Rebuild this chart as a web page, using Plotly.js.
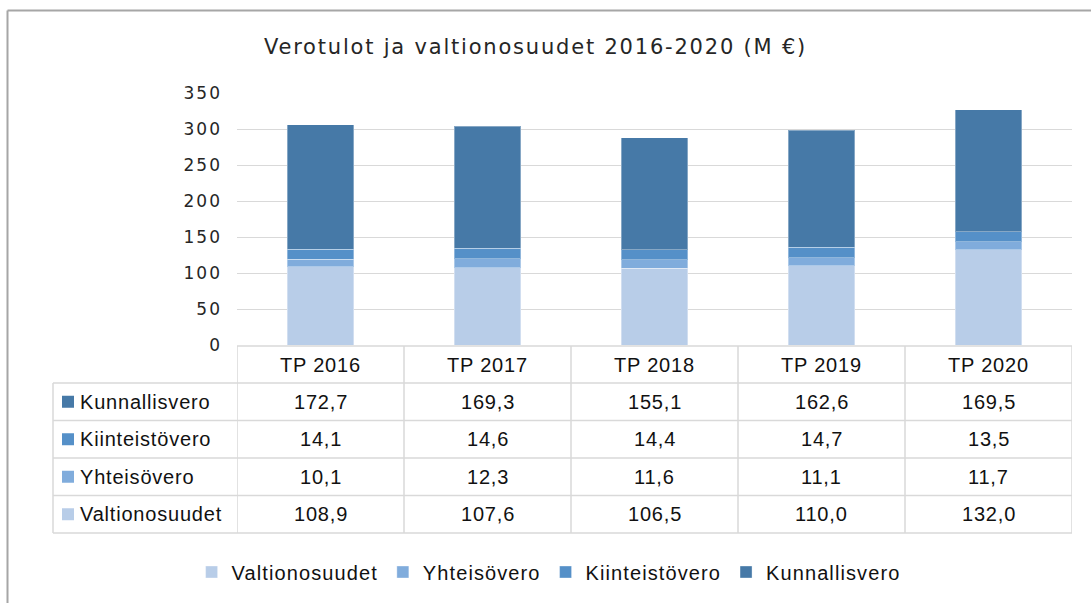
<!DOCTYPE html>
<html>
<head>
<meta charset="utf-8">
<script src="https://cdn.plot.ly/plotly-3.0.1.min.js"></script>
<style>
  html, body { margin: 0; padding: 0; background: #ffffff; }
  #chart { width: 1091px; height: 603px; }
  .gtitle { letter-spacing: 1.8px; }
  .ytick text { letter-spacing: 2px; }
  .annotation-text { letter-spacing: 0.8px; }
  .legendtext { letter-spacing: 1.1px; }
</style>
</head>
<body>
<div id="chart"></div>
<script>
// ---- data ----
const categories = ["TP 2016", "TP 2017", "TP 2018", "TP 2019", "TP 2020"];
const valtionosuudet = [108.9, 107.6, 106.5, 110.0, 132.0];
const yhteisovero    = [10.1, 12.3, 11.6, 11.1, 11.7];
const kiinteistovero = [14.1, 14.6, 14.4, 14.7, 13.5];
const kunnallisvero  = [172.7, 169.3, 155.1, 162.6, 169.5];
const seriesNames = ["Valtionosuudet", "Yhteisövero", "Kiinteistövero", "Kunnallisvero"];
const yTicks = [0, 50, 100, 150, 200, 250, 300, 350];
const chartTitle = "Verotulot ja valtionosuudet 2016-2020 (M €)";

// ---- styles ----
const colors = ["#b8cde8", "#80acdc", "#5590c8", "#4679a7"];
const seriesValues = [valtionosuudet, yhteisovero, kiinteistovero, kunnallisvero];

const W = 1091, H = 603, L = 237, R = 19, T = 93, B = 258;
const PW = W - L - R, PH = H - T - B;
const fx = px => (px - L) / PW;
const fy = py => (H - B - py) / PH;

const tableFont = { family: "Liberation Sans, Arial, sans-serif", size: 20, color: "#111111" };
const gridCol = "#d9d9d9";

const traces = seriesValues.map((vals, i) => ({
  type: "bar",
  name: seriesNames[i],
  x: categories,
  y: vals,
  width: 0.4,
  marker: { color: colors[i], line: { color: "rgba(255,255,255,0.35)", width: 1 } },
  hoverinfo: "x+y+name"
}));

// table rows (top to bottom)
const rowOrder = [3, 2, 1, 0];
const rowLines = [383, 420.5, 458, 495.5, 533];
const headerTop = 346;
const fmt = v => v.toFixed(1).replace(".", ",");

const shapes = [];
const annotations = [];

// outer frame
shapes.push({ type: "line", xref: "paper", yref: "paper", x0: fx(7.5), x1: fx(W + 5), y0: fy(10.5), y1: fy(10.5), line: { color: "#a6a6a6", width: 2 } });
shapes.push({ type: "line", xref: "paper", yref: "paper", x0: fx(7.5), x1: fx(7.5), y0: fy(10.5), y1: fy(H + 5), line: { color: "#a6a6a6", width: 2 } });

// table horizontal lines
shapes.push({ type: "line", xref: "x", yref: "paper", x0: -0.5, x1: categories.length - 0.5, y0: fy(headerTop), y1: fy(headerTop), line: { color: gridCol, width: 1.5 } });
rowLines.forEach(py => {
  shapes.push({ type: "line", xref: "paper", yref: "paper", x0: fx(53), x1: 1, y0: fy(py), y1: fy(py), line: { color: gridCol, width: 1.5 } });
});
// vertical lines
shapes.push({ type: "line", xref: "paper", yref: "paper", x0: fx(53), x1: fx(53), y0: fy(rowLines[0]), y1: fy(rowLines[rowLines.length - 1]), line: { color: gridCol, width: 1.5 } });
for (let k = 0; k <= categories.length; k++) {
  shapes.push({ type: "line", xref: "x", yref: "paper", x0: k - 0.5, x1: k - 0.5, y0: fy(headerTop), y1: fy(rowLines[rowLines.length - 1]), line: { color: gridCol, width: 1.5 } });
}

// header labels
categories.forEach(c => {
  annotations.push({ x: c, xref: "x", y: fy((headerTop + rowLines[0]) / 2), yref: "paper", text: c, showarrow: false, font: tableFont, xanchor: "center", yanchor: "middle" });
});

// rows
rowOrder.forEach((si, r) => {
  const cy = (rowLines[r] + rowLines[r + 1]) / 2;
  shapes.push({ type: "rect", xref: "paper", yref: "paper", x0: fx(62), x1: fx(74), y0: fy(cy - 6), y1: fy(cy + 6), fillcolor: colors[si], line: { width: 0 } });
  annotations.push({ x: fx(78), xref: "paper", y: fy(cy), yref: "paper", text: seriesNames[si], showarrow: false, font: tableFont, xanchor: "left", yanchor: "middle" });
  seriesValues[si].forEach((v, ci) => {
    annotations.push({ x: categories[ci], xref: "x", y: fy(cy), yref: "paper", text: fmt(v), showarrow: false, font: tableFont, xanchor: "center", yanchor: "middle" });
  });
});

const layout = {
  width: W, height: H,
  margin: { l: L, r: R, t: T, b: B, pad: 0 },
  paper_bgcolor: "#ffffff", plot_bgcolor: "#ffffff",
  barmode: "stack",
  title: { text: chartTitle, xref: "container", x: 535.5 / W, xanchor: "center", yref: "container", y: 1 - 47 / H, yanchor: "middle", font: { family: "DejaVu Sans, Verdana, sans-serif", size: 21, color: "#262626" } },
  xaxis: { type: "category", range: [-0.5, categories.length - 0.5], showticklabels: false, showgrid: false, zeroline: false, showline: false, ticks: "" },
  yaxis: { range: [0, 350], tickvals: yTicks, ticktext: yTicks.map(String), showgrid: true, gridcolor: gridCol, gridwidth: 1.3, zeroline: false, showline: false, ticks: "", ticklabelstandoff: 14, tickfont: { family: "DejaVu Sans, Verdana, sans-serif", size: 17, color: "#262626" } },
  showlegend: true,
  legend: { orientation: "h", traceorder: "normal", x: fx(191.6), xanchor: "left", y: fy(572), yanchor: "middle", font: tableFont, bgcolor: "rgba(0,0,0,0)", itemclick: false, itemdoubleclick: false },
  shapes: shapes,
  annotations: annotations,
  hovermode: "closest"
};

Plotly.newPlot("chart", traces, layout, { displayModeBar: false });
</script>
</body>
</html>
